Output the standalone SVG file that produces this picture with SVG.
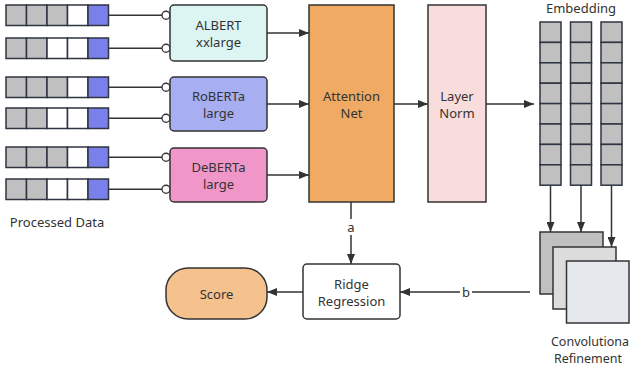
<svg xmlns="http://www.w3.org/2000/svg" width="631" height="366" viewBox="0 0 631 366">
<defs>
<style>
text{font-family:"Noto Sans","Open Sans","DejaVu Sans",sans-serif;font-size:13px;fill:#333;text-anchor:middle;dominant-baseline:central}
.sm{font-size:12.5px}
.cell{stroke:#2f3540;stroke-width:1.5}
.g{fill:#c0c0c0}.w{fill:#fff}.b{fill:#7a80ea}
.ln{stroke:#333;stroke-width:1.5;fill:none}
.node{stroke:#333;stroke-width:1.5}
.lbl{fill:#fff}
</style>
<marker id="ah" viewBox="0 0 10 8" refX="10" refY="4" markerWidth="10" markerHeight="8" markerUnits="userSpaceOnUse" orient="auto">
<path d="M0,0L10,4L0,8z" fill="#333"/>
</marker>
<g id="rowA">
<rect class="cell g" x="6" y="0" width="20.5" height="20.5"/>
<rect class="cell g" x="26.5" y="0" width="20.5" height="20.5"/>
<rect class="cell g" x="47" y="0" width="20.5" height="20.5"/>
<rect class="cell w" x="67.5" y="0" width="20.5" height="20.5"/>
<rect class="cell b" x="88" y="0" width="20.5" height="20.5"/>
<line class="ln" x1="108.5" y1="10.25" x2="162" y2="10.25"/>
<circle cx="166" cy="10.25" r="4" fill="#fff" stroke="#333" stroke-width="1.3"/>
</g>
<g id="rowB">
<rect class="cell g" x="6" y="0" width="20.5" height="20.5"/>
<rect class="cell g" x="26.5" y="0" width="20.5" height="20.5"/>
<rect class="cell w" x="47" y="0" width="20.5" height="20.5"/>
<rect class="cell w" x="67.5" y="0" width="20.5" height="20.5"/>
<rect class="cell b" x="88" y="0" width="20.5" height="20.5"/>
<line class="ln" x1="108.5" y1="10.25" x2="162" y2="10.25"/>
<circle cx="166" cy="10.25" r="4" fill="#fff" stroke="#333" stroke-width="1.3"/>
</g>
<g id="ecol">
<rect class="cell g" x="0" y="22" width="21" height="20.4"/>
<rect class="cell g" x="0" y="42.4" width="21" height="20.4"/>
<rect class="cell g" x="0" y="62.8" width="21" height="20.4"/>
<rect class="cell g" x="0" y="83.2" width="21" height="20.4"/>
<rect class="cell g" x="0" y="103.6" width="21" height="20.4"/>
<rect class="cell g" x="0" y="124" width="21" height="20.4"/>
<rect class="cell g" x="0" y="144.4" width="21" height="20.4"/>
<rect class="cell g" x="0" y="164.8" width="21" height="20.4"/>
</g>
</defs>

<g id="data">
<use href="#rowA" y="5"/>
<use href="#rowB" y="38"/>
<use href="#rowA" y="77"/>
<use href="#rowB" y="108"/>
<use href="#rowA" y="147"/>
<use href="#rowB" y="179"/>
<text x="57" y="222">Processed Data</text>
</g>

<g id="connectors">
<line class="ln" x1="267" y1="33" x2="309" y2="33" marker-end="url(#ah)"/>
<line class="ln" x1="267" y1="104" x2="309" y2="104" marker-end="url(#ah)"/>
<line class="ln" x1="267" y1="175" x2="309" y2="175" marker-end="url(#ah)"/>
<line class="ln" x1="394" y1="104" x2="428" y2="104" marker-end="url(#ah)"/>
<line class="ln" x1="486" y1="104" x2="534" y2="104" marker-end="url(#ah)"/>
<line class="ln" x1="550.5" y1="185" x2="550.5" y2="232" marker-end="url(#ah)"/>
<line class="ln" x1="581" y1="185" x2="581" y2="232" marker-end="url(#ah)"/>
<line class="ln" x1="611.5" y1="185" x2="611.5" y2="247" marker-end="url(#ah)"/>
<line class="ln" x1="351" y1="202" x2="351" y2="264" marker-end="url(#ah)"/>
<rect class="lbl" x="345" y="219" width="12" height="16"/>
<text x="351" y="227">a</text>
<line class="ln" x1="530" y1="292" x2="400" y2="292" marker-end="url(#ah)"/>
<rect class="lbl" x="460" y="284" width="12" height="16"/>
<text x="466" y="292">b</text>
<line class="ln" x1="303" y1="292" x2="267" y2="292" marker-end="url(#ah)"/>
</g>

<g id="albert">
<rect class="node" x="170" y="5" width="97" height="56" rx="4" fill="#dcf5f3"/>
<text x="218.5" y="25">ALBERT</text>
<text x="218.5" y="42">xxlarge</text>
</g>
<g id="roberta">
<rect class="node" x="170" y="77" width="97" height="54" rx="4" fill="#a7aef2"/>
<text x="218.5" y="96">RoBERTa</text>
<text x="218.5" y="113">large</text>
</g>
<g id="deberta">
<rect class="node" x="170" y="148" width="97" height="54" rx="4" fill="#f096c8"/>
<text x="218.5" y="167">DeBERTa</text>
<text x="218.5" y="184">large</text>
</g>
<g id="attention">
<rect class="node" x="309" y="5" width="85" height="197" fill="#f0aa64"/>
<text x="351.5" y="96">Attention</text>
<text x="351.5" y="113">Net</text>
</g>
<g id="layernorm">
<rect class="node" x="428" y="5" width="58" height="197" fill="#f9dcdc"/>
<text x="457" y="96">Layer</text>
<text x="457" y="113">Norm</text>
</g>
<g id="embedding">
<text x="581" y="8">Embedding</text>
<use href="#ecol" x="540"/>
<use href="#ecol" x="570.5"/>
<use href="#ecol" x="601"/>
</g>
<g id="conv">
<rect class="node" x="540" y="232" width="63" height="62" fill="#c0c0c0"/>
<rect class="node" x="553" y="247" width="63" height="62" fill="#dcdcdc"/>
<rect class="node" x="566.5" y="261" width="62.5" height="62" fill="#e5e9ed"/>
<text class="sm" x="590" y="341">Convolutiona</text>
<text class="sm" x="588" y="358">Refinement</text>
</g>
<g id="ridge">
<rect class="node" x="303" y="264" width="97" height="55" rx="4" fill="#fff"/>
<text x="351.5" y="284">Ridge</text>
<text x="351.5" y="301">Regression</text>
</g>
<g id="score">
<rect class="node" x="166" y="268" width="101" height="51" rx="22" fill="#f5c18d"/>
<text x="216.5" y="294">Score</text>
</g>
</svg>
